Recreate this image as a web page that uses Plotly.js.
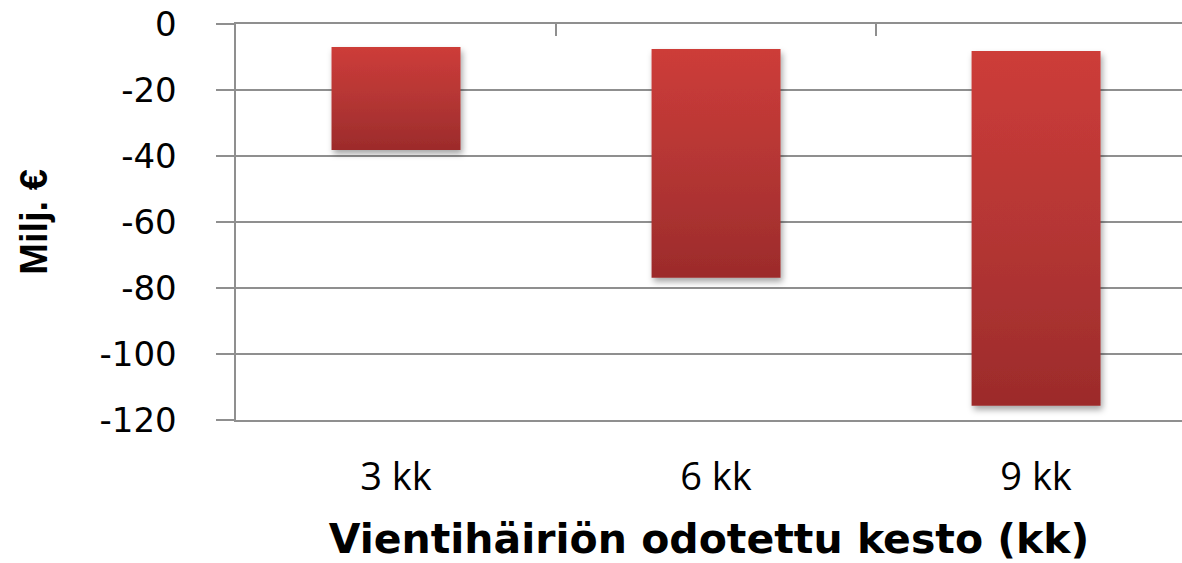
<!DOCTYPE html>
<html>
<head>
<meta charset="utf-8">
<script src="https://cdn.plot.ly/plotly-3.0.1.min.js"></script>
<style>
  html, body { margin: 0; padding: 0; background: #ffffff; }
  #chart { width: 1182px; height: 563px; }
</style>
</head>
<body>
<div id="chart"></div>
<script>
// Data
const categories = ['3 kk', '6 kk', '9 kk'];
const barTop = [-7.0, -7.6, -8.2];        // upper end of each floating bar (Milj. €)
const barBottom = [-38.2, -76.9, -115.7]; // lower end of each floating bar (Milj. €)
const yTickVals = [0, -20, -40, -60, -80, -100, -120];
const yTickText = ['0', '-20', '-40', '-60', '-80', '-100', '-120'];
const xTitle = 'Vientihäiriön odotettu kesto (kk)';
const yTitle = 'Milj. €';

const gridColor = '#8f8f8f';

const barTrace = {
  type: 'bar',
  x: categories,
  base: barTop,
  y: barBottom.map((b, i) => b - barTop[i]),
  width: 0.403,
  marker: { color: '#b43634', line: { width: 0 } },
  hoverinfo: 'skip'
};

// empty trace so the overlaid top axis (category boundary ticks) is drawn
const topAxisTrace = {
  type: 'scatter',
  x: [],
  y: [],
  xaxis: 'x2',
  yaxis: 'y',
  hoverinfo: 'skip',
  showlegend: false
};

const layout = {
  width: 1182,
  height: 563,
  margin: { l: 236, r: 0, t: 24, b: 143, pad: 0 },
  paper_bgcolor: '#ffffff',
  plot_bgcolor: '#ffffff',
  showlegend: false,
  xaxis: {
    type: 'category',
    range: [-0.5, 2.456],
    showgrid: false,
    zeroline: false,
    showline: true,
    mirror: true,
    linecolor: gridColor,
    linewidth: 2,
    ticks: '',
    ticklabelstandoff: 22,
    tickfont: { family: 'Open Sans', size: 38, color: '#000000' },
    title: {
      text: xTitle,
      font: { family: 'DejaVu Sans', size: 41, color: '#000000', weight: 'bold' },
      standoff: 38
    }
  },
  xaxis2: {
    overlaying: 'x',
    anchor: 'y',
    side: 'top',
    range: [-0.5, 2.456],
    tickmode: 'array',
    tickvals: [0.5, 1.5],
    ticks: 'inside',
    ticklen: 12,
    tickwidth: 2,
    tickcolor: gridColor,
    showticklabels: false,
    showgrid: false,
    zeroline: false,
    showline: false
  },
  yaxis: {
    range: [-120, 0],
    tickmode: 'array',
    tickvals: yTickVals,
    ticktext: yTickText,
    showgrid: true,
    gridcolor: gridColor,
    gridwidth: 2,
    zeroline: false,
    showline: true,
    linecolor: gridColor,
    linewidth: 2.5,
    ticks: 'outside',
    ticklen: 18,
    tickwidth: 2,
    tickcolor: gridColor,
    ticklabelstandoff: 32,
    tickfont: { family: 'DejaVu Sans', size: 34, color: '#000000' },
    title: {
      text: yTitle,
      font: { family: 'Liberation Sans', size: 38, color: '#000000', weight: 'bold' },
      standoff: 40
    }
  }
};

Plotly.newPlot('chart', [barTrace, topAxisTrace], layout, { staticPlot: true, displayModeBar: false }).then(function (gd) {
  const svg = gd.querySelector('svg.main-svg');
  const NS = 'http://www.w3.org/2000/svg';
  let defs = svg.querySelector('defs');
  if (!defs) { defs = document.createElementNS(NS, 'defs'); svg.insertBefore(defs, svg.firstChild); }
  const grad = document.createElementNS(NS, 'linearGradient');
  grad.setAttribute('id', 'barGrad');
  grad.setAttribute('x1', '0'); grad.setAttribute('y1', '0');
  grad.setAttribute('x2', '0'); grad.setAttribute('y2', '1');
  [['0', '#cd3c39'], ['0.5', '#b53634'], ['1', '#9c2b2b']].forEach(function (s) {
    const st = document.createElementNS(NS, 'stop');
    st.setAttribute('offset', s[0]);
    st.setAttribute('stop-color', s[1]);
    grad.appendChild(st);
  });
  defs.appendChild(grad);
  const filt = document.createElementNS(NS, 'filter');
  filt.setAttribute('id', 'barShadow');
  filt.setAttribute('x', '-10%'); filt.setAttribute('y', '-10%');
  filt.setAttribute('width', '130%'); filt.setAttribute('height', '130%');
  const ds = document.createElementNS(NS, 'feDropShadow');
  ds.setAttribute('dx', '2'); ds.setAttribute('dy', '4');
  ds.setAttribute('stdDeviation', '3');
  ds.setAttribute('flood-color', '#000000');
  ds.setAttribute('flood-opacity', '0.35');
  filt.appendChild(ds);
  defs.appendChild(filt);
  gd.querySelectorAll('.bars .point path').forEach(function (p) {
    p.style.fill = 'url(#barGrad)';
    p.style.filter = 'url(#barShadow)';
  });
});
</script>
</body>
</html>
